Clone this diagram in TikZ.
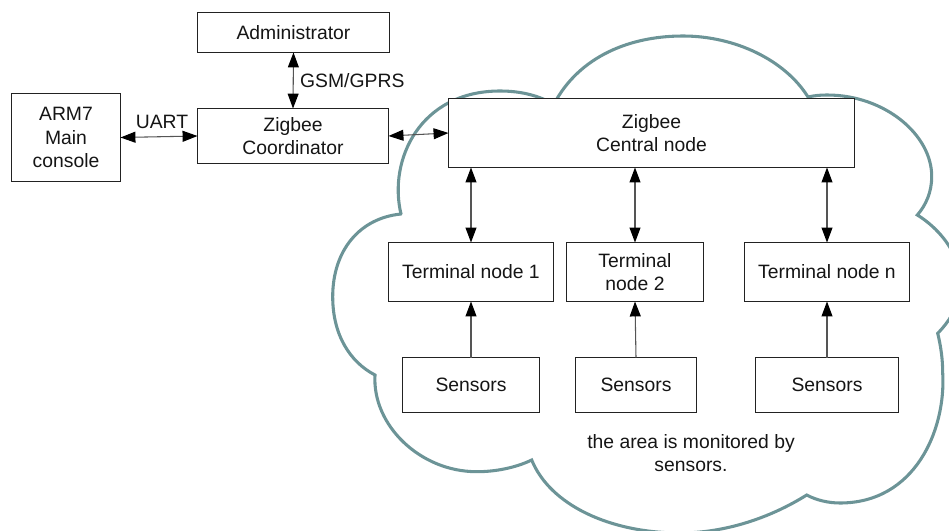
\documentclass[tikz,border=0pt]{standalone}
\usepackage{fontspec}
\setmainfont{Liberation Sans}
\usetikzlibrary{arrows.meta}
\definecolor{cloudteal}{HTML}{6C9497}
\definecolor{boxline}{HTML}{222222}
\definecolor{linkline}{HTML}{555555}
\definecolor{textink}{HTML}{151515}
\begin{document}
\begin{tikzpicture}[x=0.75pt,y=-0.75pt,
  every node/.style={font=\fontsize{14.5}{17.6}\selectfont,text=textink,align=center,outer sep=0pt,inner sep=0pt},
  blockbox/.style={draw=boxline,line width=1.1pt,fill=white,rectangle},
  lobe/.style={draw=cloudteal,line width=2.3pt,line cap=round,line join=miter},
  link/.style={draw=linkline,line width=0.8pt},
  tiptwo/.style={link,{Triangle[length=11.2pt,width=8.2pt,color=black]}-{Triangle[length=11.2pt,width=8.2pt,color=black]}},
  tipone/.style={link,-{Triangle[length=11.2pt,width=8.2pt,color=black]}}]
\useasboundingbox (0,0) rectangle (949,531);
\begin{scope}
\clip (0,0) rectangle (949,531);
% cloud lobes, clockwise from the upper left
\draw[lobe] (401,214) .. controls (388,160) and (420,91) .. (500,91) .. controls (522,91) and (542,96) .. (560,108);
\draw[lobe] (552,108) .. controls (575,60) and (625,36) .. (683,36) .. controls (735,36) and (785,60) .. (808,97)
  .. controls (815,95.5) and (820,95) .. (827,95) .. controls (885,95) and (932,135) .. (931.7,176.7) .. controls (931.7,192) and (926,205) .. (917.3,215)
  .. controls (950,235) and (985,285) .. (937.7,333.3)
  .. controls (941,347) and (942.7,360) .. (942.7,373) .. controls (946,430) and (915,503) .. (840,503) .. controls (828,503) and (816,500) .. (806.7,495)
  .. controls (770,518) and (725,533) .. (680,533) .. controls (610,533) and (550,505) .. (531.7,460)
  .. controls (515,468) and (495,471.7) .. (476.7,471.7) .. controls (420,471.7) and (372,425) .. (375,375)
  .. controls (350,362) and (332.7,335) .. (332.7,296.7) .. controls (332.7,250) and (360,218) .. (401,214);
\end{scope}
% blocks
\node[blockbox,minimum width=144pt,minimum height=30pt] (admin) at (293.5,32.5) {Administrator};
\node[blockbox,minimum width=143.25pt,minimum height=41.25pt] (coord) at (293,136) {Zigbee\\Coordinator};
\node[blockbox,minimum width=81.75pt,minimum height=66pt] (arm) at (66,137.5) {ARM7\\Main\\console};
\node[blockbox,minimum width=304.5pt,minimum height=51.75pt] (central) at (651.5,133) {Zigbee\\Central node};
\node[blockbox,minimum width=123.75pt,minimum height=44.25pt] (tone) at (471,272) {Terminal node 1};
\node[blockbox,minimum width=102.75pt,minimum height=44.25pt] (ttwo) at (635,272) {Terminal\\node 2};
\node[blockbox,minimum width=123.75pt,minimum height=44.25pt] (tn) at (827,272) {Terminal node n};
\node[blockbox,minimum width=102.75pt,minimum height=41.25pt] (sone) at (471,385) {Sensors};
\node[blockbox,minimum width=90.75pt,minimum height=41.25pt] (stwo) at (636,385) {Sensors};
\node[blockbox,minimum width=107.25pt,minimum height=41.25pt] (sn) at (827,385) {Sensors};
% connectors
\draw[tiptwo] (admin.south) -- (coord.north);
\draw[tiptwo] (arm.east) -- (coord.west);
\draw[tiptwo] (coord.east) -- (central.west);
\draw[tiptwo] (central.south -| tone.north) -- (tone.north);
\draw[tiptwo] (central.south -| ttwo.north) -- (ttwo.north);
\draw[tiptwo] (central.south -| tn.north) -- (tn.north);
\draw[tipone] (sone.north) -- (tone.south);
\draw[tipone] (stwo.north) -- (ttwo.south);
\draw[tipone] (sn.north) -- (tn.south);
% labels
\node[anchor=west] (gsm) at (300.2,81) {GSM/GPRS};
\node (uart) at (162,122) {UART};
\node (area) at (691,453) {the area is monitored by\\sensors.};
\end{tikzpicture}
\end{document}
